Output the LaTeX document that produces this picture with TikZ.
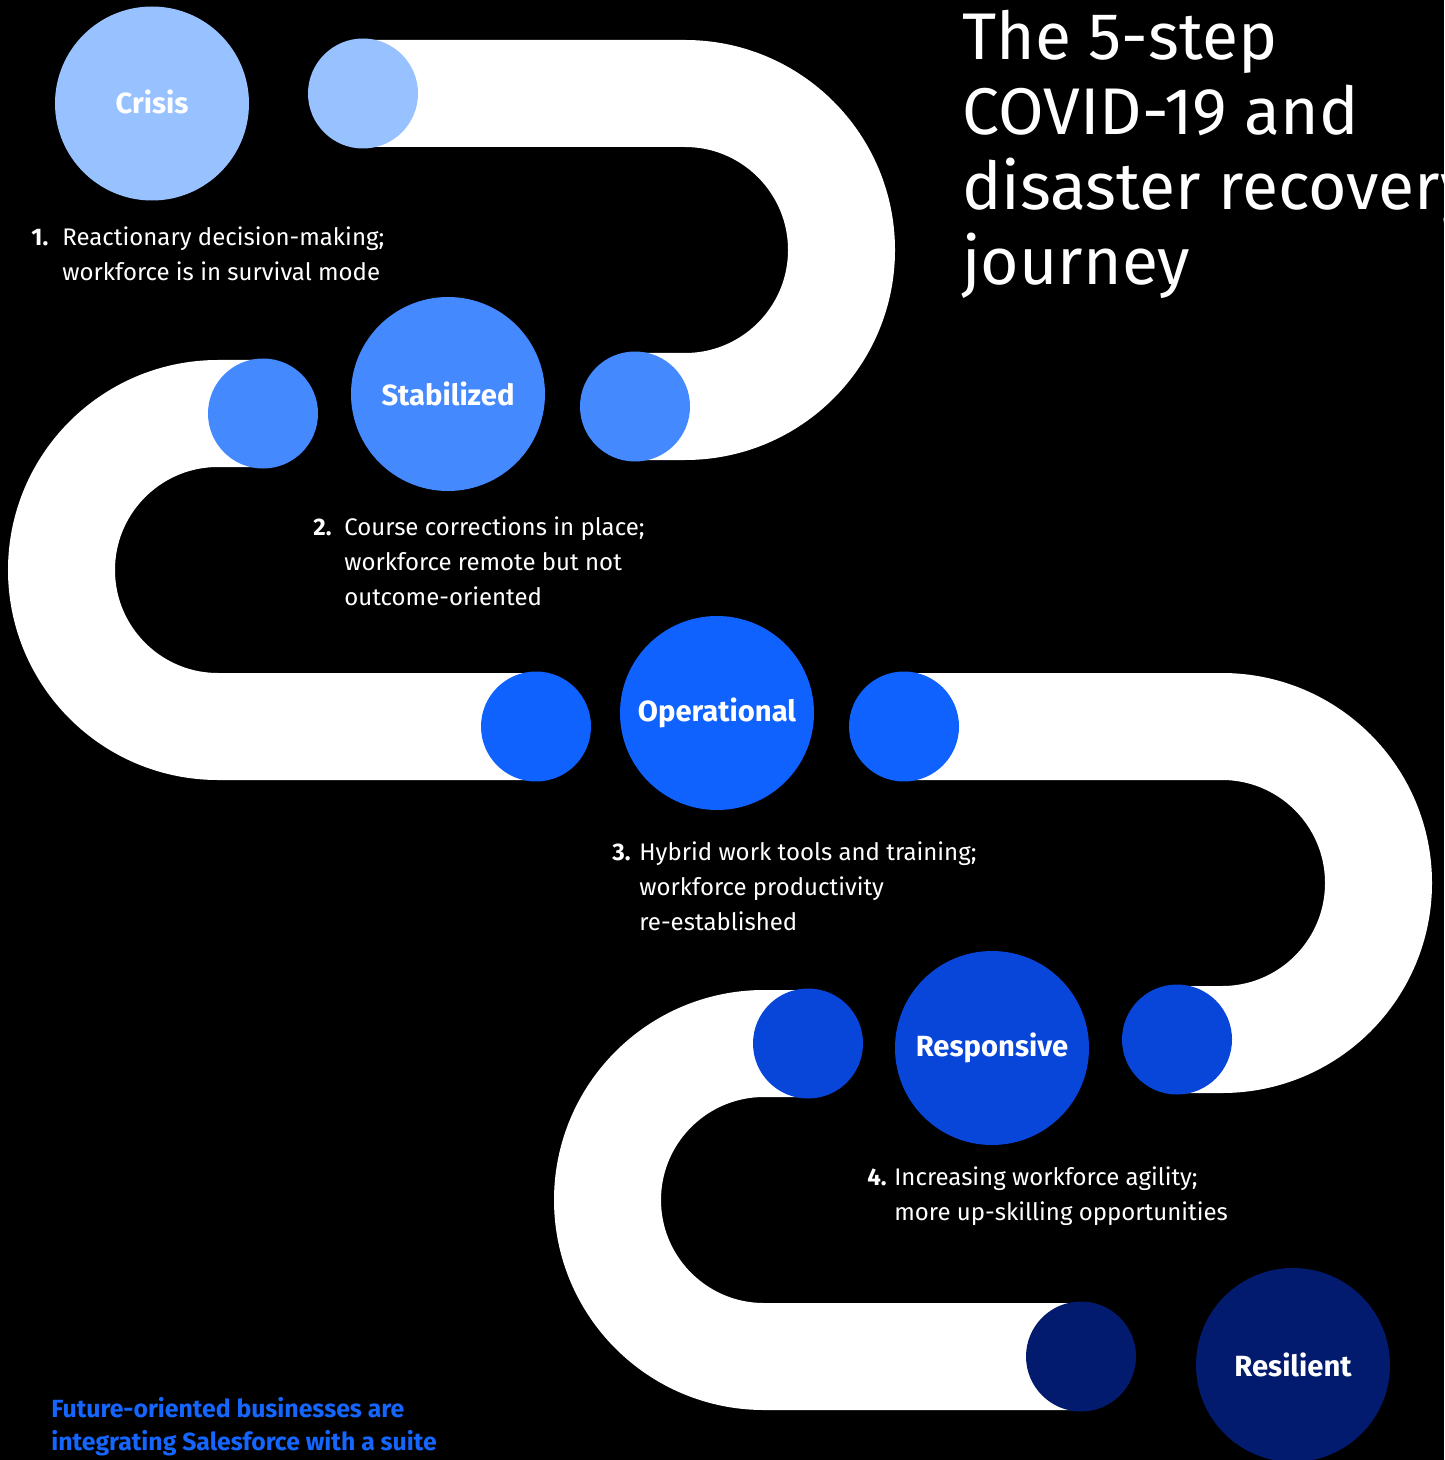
\documentclass[tikz,border=0pt]{standalone}
\usepackage{fontspec}
\setmainfont{Fira Sans}
\usetikzlibrary{backgrounds}
\definecolor{crisisC}{HTML}{97C1FF}
\definecolor{stabC}{HTML}{4589FF}
\definecolor{operC}{HTML}{0F62FE}
\definecolor{respC}{HTML}{0846DA}
\definecolor{resC}{HTML}{031B6E}
\definecolor{footC}{HTML}{1466FF}
\begin{document}
\begin{tikzpicture}[x=0.5pt,y=0.5pt,
  bigc/.style={circle,minimum size=97pt,inner sep=0pt,text=white,font=\fontsize{14.6}{16}\selectfont\bfseries},
  smallc/.style={circle,minimum size=55pt,inner sep=0pt},
  band/.style={draw=white,line width=53.5pt},
  desc/.style={anchor=base west,inner sep=0pt,text=white,font=\fontsize{12}{17.5}\selectfont},
  num/.style={anchor=base west,inner sep=0pt,text=white,font=\fontsize{12}{17.5}\selectfont\bfseries},
  title/.style={anchor=base west,inner sep=0pt,text=white,font=\fontsize{33}{37.5}\selectfont},
  foot/.style={anchor=base west,inner sep=0pt,text=footC,font=\fontsize{12.4}{16.5}\selectfont\bfseries}]
\useasboundingbox (0,0) rectangle (1444,-1460);

% small circles (band ends)
\node[smallc,fill=crisisC] (s1a) at (363,-93.5) {};
\node[smallc,fill=stabC] (s1b) at (635,-406.5) {};
\node[smallc,fill=stabC] (s2a) at (263,-413.5) {};
\node[smallc,fill=operC] (s2b) at (536,-726.5) {};
\node[smallc,fill=operC] (s3a) at (904,-726.5) {};
\node[smallc,fill=respC] (s3b) at (1177,-1039.5) {};
\node[smallc,fill=respC] (s4a) at (808,-1043.5) {};
\node[smallc,fill=resC] (s4b) at (1081,-1356.5) {};

% big step circles
\node[bigc,fill=crisisC] (crisis) at (152,-103.5) {\raisebox{2pt}{Crisis}};
\node[bigc,fill=stabC] (stab) at (448,-394) {Stabilized};
\node[bigc,fill=operC] (oper) at (717,-713) {Operational};
\node[bigc,fill=respC] (resp) at (992,-1048) {Responsive};
\node[bigc,fill=resC] (resil) at (1293,-1365) {Resilient};

\begin{scope}[on background layer]
  \fill[black] (0,0) rectangle (1444,-1460);
  \draw[band] (s1a.center) -- (685,-93.5) arc[start angle=90,end angle=-90,radius=78.25pt] -- (s1b.center);
  \draw[band] (s2a.center) -- (218,-413.5) arc[start angle=90,end angle=270,radius=78.25pt] -- (s2b.center);
  \draw[band] (s3a.center) -- (1222,-726.5) arc[start angle=90,end angle=-90,radius=78.25pt] -- (s3b.center);
  \draw[band] (s4a.center) -- (764,-1043.5) arc[start angle=90,end angle=270,radius=78.25pt] -- (s4b.center);
\end{scope}

% title
\node[title] (ttl) at (962,-60) {\begin{tabular}[t]{@{}l@{}}The 5-step\\ COVID-19 and\\ disaster recovery\\ journey\end{tabular}};

% descriptions
\node[num] (n1) at (31,-246) {1.};
\node[desc] (d1) at (62,-246) {\begin{tabular}[t]{@{}l@{}}Reactionary decision-making;\\ workforce is in survival mode\end{tabular}};
\node[num] (n2) at (313,-535) {2.};
\node[desc] (d2) at (344,-535) {\begin{tabular}[t]{@{}l@{}}Course corrections in place;\\ workforce remote but not\\ outcome-oriented\end{tabular}};
\node[num] (n3) at (612,-860) {3.};
\node[desc] (d3) at (639,-860) {\begin{tabular}[t]{@{}l@{}}Hybrid work tools and training;\\ workforce productivity\\ re-established\end{tabular}};
\node[num] (n4) at (867,-1185) {4.};
\node[desc] (d4) at (894,-1185) {\begin{tabular}[t]{@{}l@{}}Increasing workforce agility;\\ more up-skilling opportunities\end{tabular}};

% footer
\node[foot] (ft) at (51,-1417) {\begin{tabular}[t]{@{}l@{}}Future-oriented businesses are\\ integrating Salesforce with a suite\end{tabular}};
\end{tikzpicture}
\end{document}
